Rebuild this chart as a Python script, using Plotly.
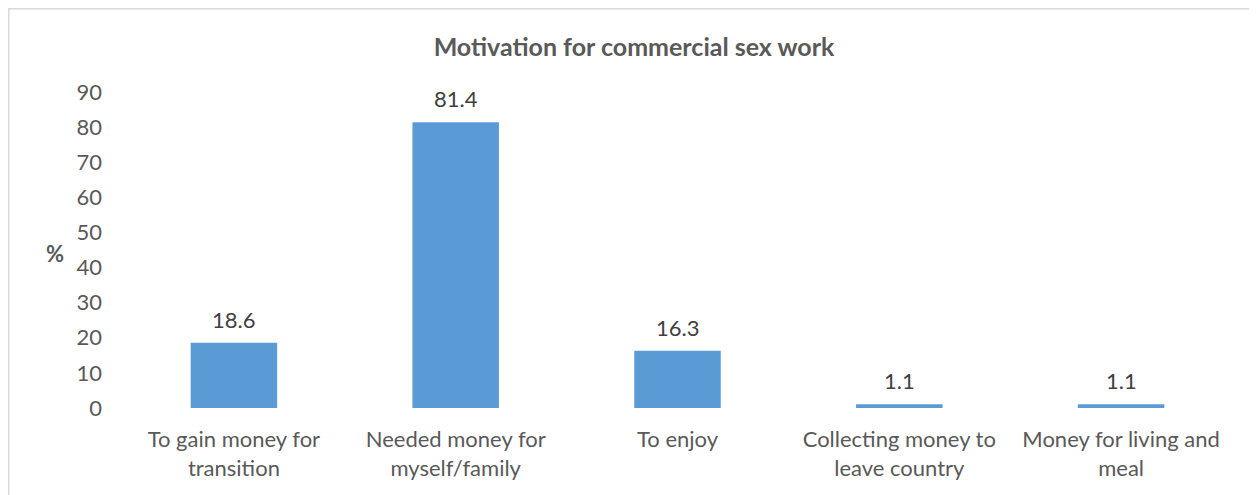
import plotly.graph_objects as go

categories = [
    "To gain money for<br>transition",
    "Needed money for<br>myself/family",
    "To enjoy",
    "Collecting money to<br>leave country",
    "Money for living and<br>meal",
]
values = [18.6, 81.4, 16.3, 1.1, 1.1]
value_labels = ["18.6", "81.4", "16.3", "1.1", "1.1"]
y_ticks = [0, 10, 20, 30, 40, 50, 60, 70, 80, 90]

TEXT = "#595959"
FONT = "Lato"

fig = go.Figure(
    go.Bar(
        x=categories,
        y=values,
        marker=dict(color="#5B9BD5", line=dict(width=0)),
        cliponaxis=False,
        width=0.39,
    )
)

W, H = 1257, 495
# page renders figure with an 8px offset; coordinates below are figure coords
L, R, T, B = 115, 33, 84, 95
pw, ph = W - L - R, H - T - B

def px2paper_x(x):
    return (x - L) / pw

def px2paper_y(y):
    return (H - B - y) / ph

annotations = [
    dict(
        x=c,
        y=v,
        text=t,
        xref="x",
        yref="y",
        xanchor="center",
        yanchor="bottom",
        yshift=8,
        showarrow=False,
        font=dict(family=FONT, size=22, color="#404040"),
    )
    for c, v, t in zip(categories, values, value_labels)
]
annotations.append(
    dict(
        text="<b>%</b>",
        xref="paper",
        yref="paper",
        x=px2paper_x(47),
        y=px2paper_y(245),
        xanchor="center",
        yanchor="middle",
        showarrow=False,
        font=dict(family=FONT, size=22, color=TEXT),
    )
)

fig.update_layout(
    width=W,
    height=H,
    margin=dict(l=L, r=R, t=T, b=B),
    paper_bgcolor="white",
    plot_bgcolor="white",
    showlegend=False,
    font=dict(family=FONT, size=22, color=TEXT),
    title=dict(
        text="<b>Motivation for commercial sex work</b>",
        x=(634 - 8) / W,
        xanchor="center",
        y=1 - 39.5 / H,
        yanchor="middle",
        yref="container",
        font=dict(family=FONT, size=25, color=TEXT),
    ),
    xaxis=dict(
        showgrid=False,
        showline=False,
        zeroline=False,
        ticks="",
        ticklabelstandoff=16,
        tickfont=dict(family=FONT, size=22, color=TEXT),
    ),
    yaxis=dict(
        range=[0, 90],
        tickvals=y_ticks,
        showgrid=False,
        showline=False,
        zeroline=False,
        ticks="",
        ticklabelstandoff=20,
        tickfont=dict(family=FONT, size=22, color=TEXT),
    ),
    annotations=annotations,
    shapes=[
        dict(
            type="rect",
            xref="paper",
            yref="paper",
            x0=px2paper_x(0.75),
            x1=px2paper_x(W + 20),
            y0=px2paper_y(H + 20),
            y1=px2paper_y(0.75),
            line=dict(color="#D9D9D9", width=1.5),
            fillcolor="rgba(0,0,0,0)",
            layer="below",
        )
    ],
)

fig.write_html("out.html")
